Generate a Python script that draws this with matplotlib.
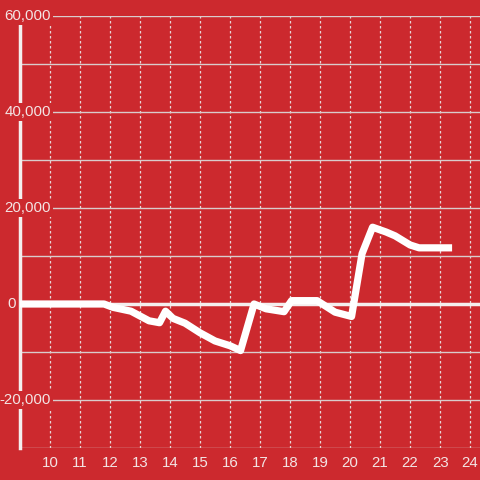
import matplotlib
matplotlib.use('Agg')
import matplotlib.pyplot as plt
import matplotlib.transforms as mtransforms

# hour of day vs running total
hours = [9.0, 11.8, 12.1, 12.7, 13.3, 13.65, 13.85, 14.1, 14.5, 15.0, 15.5,
         16.0, 16.35, 16.8, 17.2, 17.8, 18.05, 18.9, 19.5, 20.05, 20.4,
         20.75, 21.2, 21.5, 22.0, 22.3, 23.4]
values = [0, 0, -700, -1500, -3500, -3900, -1500, -3000, -4000, -6000, -7700,
          -8700, -9700, 0, -1000, -1600, 700, 700, -1700, -2600, 10500,
          16000, 15000, 14200, 12300, 11700, 11700]

x_ticks = list(range(10, 25))
y_labels = [60000, 40000, 20000, 0, -20000]
y_grid = list(range(-30000, 60001, 10000))

BG = '#cc292e'
FG = '#f3e4e4'


def main():
    plt.rcParams['font.family'] = ['Liberation Sans', 'DejaVu Sans']
    fig = plt.figure(figsize=(4.8, 4.8), dpi=100, facecolor=BG)
    ax = fig.add_axes([20 / 480, 32 / 480, 460 / 480, 432 / 480])
    ax.set_facecolor(BG)
    ax.set_xlim(9.0, 24.33)
    ax.set_ylim(-30000, 60000)

    for v in x_ticks:
        ax.axvline(v, color='#e6d6d6', lw=0.9, ls=(0, (2, 2)), zorder=1)
    for v in y_grid:
        if v == 0:
            ax.axhline(v, color='#f4eeee', lw=2.5, zorder=1.2)
        else:
            ax.axhline(v, color='#d9cccc', lw=1.0, zorder=1)

    ax.plot(hours, values, color='white', lw=5.2, solid_joinstyle='round',
            solid_capstyle='butt', zorder=3)

    for s in ['top', 'right', 'bottom']:
        ax.spines[s].set_visible(False)
    ax.spines['left'].set_color('#f4eeee')
    ax.spines['left'].set_linewidth(2.5)
    ax.spines['left'].set_bounds(-30000, 58300)
    ax.spines['left'].set_zorder(2)

    ax.set_xticks(x_ticks)
    ax.set_xticklabels([str(v) for v in x_ticks])
    ax.tick_params(axis='x', length=0, pad=6, labelsize=10.8, colors=FG)
    ax.set_yticks([])

    trans = mtransforms.blended_transform_factory(ax.transAxes, ax.transData)
    for v in y_labels:
        if v == 0:
            xpos = -4 / 460
        else:
            xpos = 31 / 460
        ax.text(xpos, v, f'{v:,}', transform=trans, ha='right', va='center',
                fontsize=10.8, color=FG, zorder=2.6, clip_on=False,
                bbox=dict(facecolor=BG, edgecolor='none', pad=1.5))

    fig.savefig('out.png', dpi=100, facecolor=BG)


if __name__ == '__main__':
    main()
